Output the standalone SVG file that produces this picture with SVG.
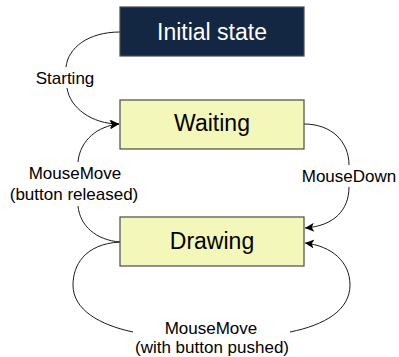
<svg xmlns="http://www.w3.org/2000/svg" width="399" height="357" viewBox="0 0 399 357">
<style>
.box{stroke:#4a4a4a;stroke-width:1.2}
.start{fill:#132743}
.state{fill:#f3f7b9}
.title{font-family:"Liberation Sans",Arial,sans-serif;font-size:23px;text-anchor:middle}
.lbl{font-family:"Liberation Sans",Arial,sans-serif;font-size:17px;text-anchor:middle;fill:#000}
.edge{fill:none;stroke:#1a1a1a;stroke-width:1}
</style>
<defs>
<marker id="arr" viewBox="0 0 10 10" refX="10" refY="5" markerWidth="10" markerHeight="9" markerUnits="userSpaceOnUse" orient="auto">
<path d="M0,0 L10,5 L0,10 L2.5,5 Z" fill="#000"/>
</marker>
</defs>
<rect width="399" height="357" fill="#fff"/>
<g id="connectors">
<path class="edge" d="M120,32 C88,32 68,48 66,67"/>
<path class="edge" d="M67,88 C70,108 92,124 119,124" marker-end="url(#arr)"/>
<path class="edge" d="M304,124 C332,124 349,142 349,165"/>
<path class="edge" d="M349,187 C349,210 334,226 305,228" marker-end="url(#arr)"/>
<path class="edge" d="M120,242 C96,240 80,226 78,206"/>
<path class="edge" d="M78,162 C80,140 98,126 119,124" marker-end="url(#arr)"/>
<path class="edge" d="M120,242 C84,244 73,266 73,285 C73,310 100,325 133,332"/>
<path class="edge" d="M290,332 C325,325 350,310 350,285 C350,262 332,246 305,243" marker-end="url(#arr)"/>
</g>
<g id="initial">
<rect class="box start" x="120" y="7" width="184" height="49"/>
<text class="title" x="212" y="40" fill="#fff">Initial state</text>
</g>
<g id="waiting">
<rect class="box state" x="120" y="100" width="184" height="49"/>
<text class="title" x="212" y="131" fill="#000">Waiting</text>
</g>
<g id="drawing">
<rect class="box state" x="120" y="217" width="184" height="49"/>
<text class="title" x="212" y="249" fill="#000">Drawing</text>
</g>
<g id="labels">
<text class="lbl" x="65" y="84">Starting</text>
<text class="lbl" x="349" y="182">MouseDown</text>
<text class="lbl" x="75" y="179">MouseMove</text>
<text class="lbl" x="74" y="200">(button released)</text>
<text class="lbl" x="211" y="334">MouseMove</text>
<text class="lbl" x="212" y="353">(with button pushed)</text>
</g>
</svg>
